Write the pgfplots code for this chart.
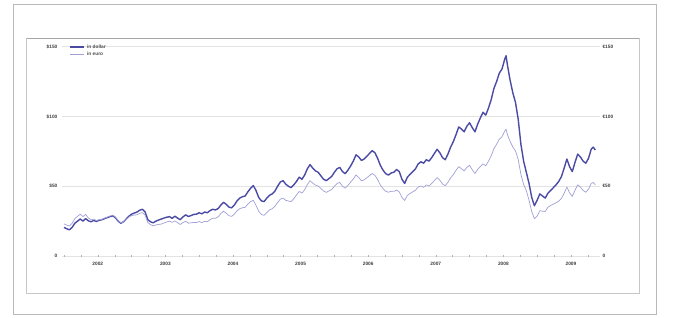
\documentclass[border=0pt]{standalone}
\usepackage{fontspec}
\setmainfont{Liberation Sans}
\usepackage{pgfplots}
\pgfplotsset{compat=1.18}
\usepackage{pgfplotstable}
\definecolor{usdcol}{RGB}{75,75,165}
\definecolor{eurcol}{RGB}{160,160,215}
\newcommand{\tk}{\fontsize{4.8}{5}\selectfont\bfseries}
\pgfplotstableread{
t usd eur
2002.00 20.5 23.0
2002.04 19.5 22.1
2002.08 18.8 21.5
2002.12 20.5 23.5
2002.16 23.5 26.8
2002.20 25.0 28.4
2002.24 26.5 30.0
2002.28 25.0 28.2
2002.32 26.8 29.8
2002.36 25.2 27.2
2002.40 24.5 26.0
2002.44 25.5 26.4
2002.48 24.8 25.4
2002.52 25.6 26.0
2002.56 26.0 26.3
2002.60 26.8 27.1
2002.64 27.5 27.9
2002.68 28.2 28.6
2002.72 28.8 29.3
2002.76 27.5 28.0
2002.80 25.0 25.5
2002.84 23.5 23.7
2002.88 24.5 24.5
2002.92 26.5 26.2
2002.96 28.5 27.9
2003.00 30.0 29.0
2003.04 30.8 29.3
2003.08 31.5 29.6
2003.12 32.8 30.6
2003.16 33.5 31.1
2003.20 31.5 29.2
2003.24 26.0 23.9
2003.28 24.5 22.5
2003.32 23.8 21.6
2003.36 25.0 22.3
2003.40 25.8 22.6
2003.44 26.5 22.9
2003.48 27.2 23.7
2003.52 27.8 24.4
2003.56 28.2 25.0
2003.60 27.0 24.1
2003.64 28.5 25.2
2003.68 27.2 23.9
2003.72 26.0 22.6
2003.76 28.0 24.0
2003.80 29.5 24.9
2003.84 28.3 23.5
2003.88 29.0 23.8
2003.92 29.8 24.1
2003.96 30.0 24.0
2004.00 31.0 24.7
2004.04 30.2 23.9
2004.08 31.5 24.9
2004.12 31.0 24.5
2004.16 32.5 26.0
2004.20 33.5 27.1
2004.24 33.0 27.0
2004.28 34.0 28.1
2004.32 36.5 30.4
2004.36 38.5 32.1
2004.40 37.0 30.7
2004.44 35.0 28.9
2004.48 34.5 28.4
2004.52 36.5 30.0
2004.56 39.5 32.4
2004.60 41.5 33.9
2004.64 42.5 34.6
2004.68 43.0 34.9
2004.72 46.0 37.2
2004.76 48.5 39.0
2004.80 50.5 39.9
2004.84 47.0 36.4
2004.88 42.0 32.1
2004.92 39.5 29.8
2004.96 39.0 29.1
2005.00 41.5 31.2
2005.04 43.5 33.0
2005.08 44.5 33.9
2005.12 46.5 35.6
2005.16 50.0 38.3
2005.20 53.0 40.7
2005.24 54.0 41.5
2005.28 51.5 39.9
2005.32 50.0 39.4
2005.36 49.0 39.0
2005.40 51.0 41.1
2005.44 53.5 43.8
2005.48 56.5 46.3
2005.52 55.0 45.1
2005.56 58.0 47.5
2005.60 62.5 51.2
2005.64 65.5 54.0
2005.68 63.0 52.2
2005.72 61.0 50.8
2005.76 60.0 50.2
2005.80 57.5 48.4
2005.84 55.0 46.6
2005.88 54.0 45.6
2005.92 55.5 46.6
2005.96 57.0 47.7
2006.00 60.0 50.0
2006.04 62.5 52.0
2006.08 63.5 52.7
2006.12 60.5 50.0
2006.16 59.0 48.6
2006.20 61.5 50.6
2006.24 64.5 52.9
2006.28 68.0 55.2
2006.32 72.5 58.1
2006.36 71.0 56.3
2006.40 68.5 53.9
2006.44 69.5 54.6
2006.48 71.5 56.1
2006.52 73.5 57.6
2006.56 75.5 59.1
2006.60 74.0 57.8
2006.64 70.0 54.8
2006.68 65.0 50.9
2006.72 61.5 48.3
2006.76 59.0 46.4
2006.80 58.0 45.7
2006.84 59.5 46.4
2006.88 60.0 46.3
2006.92 62.0 47.3
2006.96 60.5 45.9
2007.00 55.0 42.0
2007.04 52.0 39.8
2007.08 56.5 43.4
2007.12 58.5 44.8
2007.16 60.5 46.0
2007.20 62.5 47.2
2007.24 66.0 49.4
2007.28 67.5 50.2
2007.32 66.5 49.2
2007.36 69.0 51.0
2007.40 68.0 50.2
2007.44 70.5 52.0
2007.48 73.5 54.1
2007.52 76.5 56.2
2007.56 74.0 54.3
2007.60 70.5 51.6
2007.64 69.0 50.4
2007.68 73.0 52.8
2007.72 78.0 56.0
2007.76 82.0 58.3
2007.80 87.0 61.4
2007.84 92.5 64.0
2007.88 91.0 62.6
2007.92 89.0 61.0
2007.96 93.0 63.5
2008.00 95.5 65.0
2008.04 92.0 61.8
2008.08 89.0 59.1
2008.12 94.5 62.0
2008.16 99.0 64.2
2008.20 103.0 66.0
2008.24 101.0 64.7
2008.28 106.0 67.9
2008.32 112.0 71.8
2008.36 120.0 76.9
2008.40 125.0 80.1
2008.44 131.0 83.7
2008.48 134.0 85.4
2008.52 141.0 89.4
2008.54 143.5 90.9
2008.56 137.0 87.1
2008.60 126.0 82.1
2008.64 117.0 78.2
2008.68 110.0 75.3
2008.72 98.0 69.2
2008.76 80.0 58.4
2008.80 68.0 51.3
2008.84 60.0 46.9
2008.88 52.0 40.0
2008.92 42.0 31.8
2008.96 36.0 26.7
2009.00 40.0 28.6
2009.04 44.5 32.5
2009.08 43.0 32.1
2009.12 41.5 31.9
2009.16 45.0 35.0
2009.20 47.0 36.2
2009.24 49.0 37.2
2009.28 51.0 38.2
2009.32 53.5 39.3
2009.36 57.0 41.3
2009.40 63.0 45.0
2009.44 69.5 49.4
2009.48 64.0 45.3
2009.52 60.5 42.7
2009.56 67.0 47.1
2009.60 73.0 51.0
2009.64 71.0 49.4
2009.68 68.0 47.0
2009.72 66.5 45.7
2009.76 70.0 47.9
2009.80 76.5 52.0
2009.83 78.0 52.7
2009.86 76.0 51.0
}\oil
\begin{document}
\begin{tikzpicture}[x=1pt,y=1pt]
\path[fill=white] (0,0) rectangle (673,317);
% outer frame
\draw[gray!55, line width=0.7pt] (13.5,3) rectangle (656,313);
% inner box
\draw[gray!45, line width=0.6pt] (26.5,24) rectangle (639,278.5);
\draw[gray!70, line width=1.3pt] (26.5,278.5) -- (639,278.5);
\begin{axis}[
  at={(62pt,61pt)}, anchor=south west,
  scale only axis, width=538pt, height=209.3pt,
  xmin=2001.97, xmax=2009.93, ymin=0, ymax=150,
  axis line style={draw=none},
  ytick={0,50,100,150},
  yticklabels={0,\$50,\$100,\$150},
  ytick pos=left,
  ymajorgrids, grid style={gray!22, line width=0.5pt},
  major y tick style={draw=none},
  xtick={2002.5,2003.5,2004.5,2005.5,2006.5,2007.5,2008.5,2009.5},
  xticklabels={2002,2003,2004,2005,2006,2007,2008,2009},
  xtick pos=bottom,
  major x tick style={draw=none},
  minor xtick={2002,2002.25,2002.5,2002.75,2003,2003.25,2003.5,2003.75,2004,2004.25,2004.5,2004.75,2005,2005.25,2005.5,2005.75,2006,2006.25,2006.5,2006.75,2007,2007.25,2007.5,2007.75,2008,2008.25,2008.5,2008.75,2009,2009.25,2009.5,2009.75},
  minor x tick style={gray!60, line width=0.4pt},
  minor tick length=2.5pt,
  tick align=center,
  ticklabel style={font=\tk, text=black!75},
  xticklabel style={yshift=-0.5pt},
  yticklabel style={xshift=1pt},
  legend style={at={(0.012,1.025)}, anchor=north west, draw=none, fill=none,
    font=\tk, text=black!70, row sep=-1.5pt, inner sep=1pt},
  legend cell align=left,
  legend image code/.code={\draw[#1] (0pt,0pt) -- (14pt,0pt);},
]
\addplot[usdcol, line width=1.4pt, line join=round] table[x=t, y=usd] {\oil};
\addplot[eurcol, line width=0.7pt, line join=round] table[x=t, y=eur] {\oil};
\legend{in dollar, in euro}
\end{axis}
\begin{axis}[
  at={(62pt,61pt)}, anchor=south west,
  scale only axis, width=538pt, height=209.3pt,
  xmin=2001.97, xmax=2009.93, ymin=0, ymax=150,
  axis line style={draw=none},
  hide x axis,
  axis y line*=right,
  ytick={0,50,100,150},
  yticklabels={0,€50,€100,€150},
  major y tick style={draw=none},
  ticklabel style={font=\tk, text=black!75},
  yticklabel style={xshift=-1pt},
]
\addplot[draw=none] coordinates {(2002,0)};
\end{axis}
\end{tikzpicture}
\end{document}
